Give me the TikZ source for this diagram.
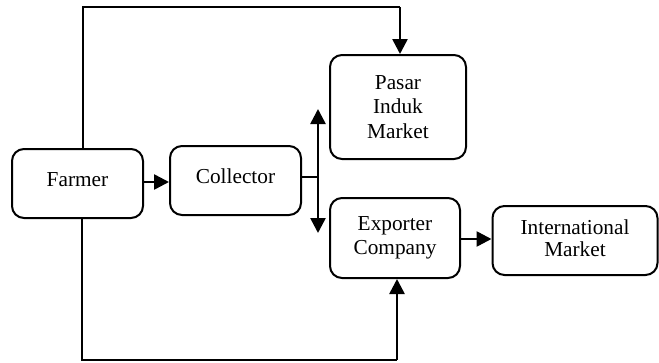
\documentclass[tikz,border=0pt]{standalone}
\usepackage{fontspec}
\setmainfont{Liberation Serif}
\usetikzlibrary{arrows.meta}
\begin{document}
\begin{tikzpicture}[x=1pt,y=-1pt,
  box/.style={draw,line width=2pt,rounded corners=12pt,align=center,
    font=\fontsize{21.3}{24.5}\selectfont,inner sep=0pt},
  arr/.style={line width=2.6pt,-{Triangle[length=15pt,width=15pt]}},
  thin/.style={line width=1.9pt}]
\useasboundingbox (0,0) rectangle (659,362);
\node[box,minimum width=131pt,minimum height=69pt] (farmer) at (77.5,183.5) {\raisebox{7pt}{Farmer}};
\node[box,minimum width=131pt,minimum height=69pt] (collector) at (235.5,180.5) {\raisebox{8pt}{Collector}};
\node[box,minimum width=136pt,minimum height=104pt] (pasar) at (398,107) {Pasar\\Induk\\Market};
\node[box,minimum width=130pt,minimum height=80pt] (exporter) at (395,238) {Exporter\\Company};
\node[box,minimum width=165pt,minimum height=69pt] (intl) at (575,240.5) {\raisebox{-3pt}{\begin{tabular}{@{}c@{}}International\\[-2pt]Market\end{tabular}}};
\coordinate (split) at (318,177);
\coordinate (uptip) at (318,109);
\coordinate (downtip) at (318,233);
\coordinate (tl) at (83,7);
\coordinate (tr) at (400,7);
\coordinate (bl) at (82,360);
\coordinate (br) at (397,360);
\draw[arr] (farmer.east |- 0,182) -- (collector.west |- 0,182);
\draw[thin] (collector.east |- split) -- (split);
\draw[arr] (split) -- (uptip);
\draw[arr] (split) -- (downtip);
\draw[arr] (exporter.east |- 0,239) -- (intl.west |- 0,239);
\draw[thin] (farmer.north -| tl) -- (tl) -- (tr);
\draw[arr] (tr) -- (pasar.north -| tr);
\draw[thin] (farmer.south -| bl) -- (bl) -- (br);
\draw[arr] (br) -- (exporter.south -| br);
\end{tikzpicture}
\end{document}
